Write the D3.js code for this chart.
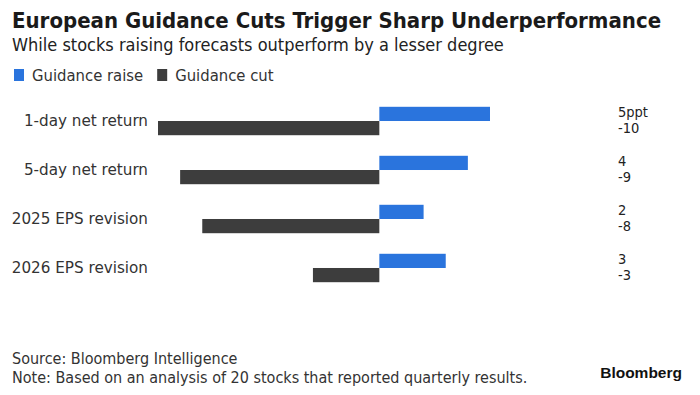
<!DOCTYPE html>
<html>
<head>
<meta charset="utf-8">
<script src="https://cdn.jsdelivr.net/npm/d3@7"></script>
<style>
  body { margin: 0; background: #fff; }
  svg text { fill: #1a1a1a; }
</style>
</head>
<body>
<div id="chart"></div>
<script>
const categories = ['1-day net return', '5-day net return', '2025 EPS revision', '2026 EPS revision'];
const raiseValues = [5, 4, 2, 3];
const cutValues = [-10, -9, -8, -3];
const raiseLabels = ['5ppt', '4', '2', '3'];
const cutLabels = ['-10', '-9', '-8', '-3'];
const seriesNames = ['Guidance raise', 'Guidance cut'];
const colors = ['#2a74dd', '#3d3d3d'];

const width = 700, height = 395;
const condensed = '"DejaVu Sans Condensed", "DejaVu Sans", sans-serif';

const svg = d3.select('#chart').append('svg')
    .attr('width', width)
    .attr('height', height);

// title block
svg.append('text')
    .attr('x', 12).attr('y', 28)
    .style('font-family', condensed)
    .style('font-weight', 'bold')
    .style('font-size', '22px')
    .text('European Guidance Cuts Trigger Sharp Underperformance');

svg.append('text')
    .attr('x', 12).attr('y', 51)
    .style('font-family', condensed)
    .style('font-size', '18px')
    .style('fill', '#222')
    .text('While stocks raising forecasts outperform by a lesser degree');

// legend
const legend = svg.append('g').attr('transform', 'translate(14,68)');
let lx = 0;
seriesNames.forEach((name, i) => {
    const item = legend.append('g').attr('transform', `translate(${lx},0)`);
    item.append('rect').attr('width', 10).attr('height', 12).attr('y', 1).attr('fill', colors[i]);
    const t = item.append('text')
        .attr('x', 18).attr('y', 13)
        .style('font-family', condensed)
        .style('font-size', '16.5px')
        .style('fill', '#333')
        .text(name);
    lx += 18 + t.node().getComputedTextLength() + 14;
});

// scales
const x = d3.scaleLinear().domain([-10, 5]).range([158, 490]);
const y = d3.scaleBand().domain(categories).range([97, 292]).paddingInner(0.42).paddingOuter(0.2);
const barH = y.bandwidth() / 2;

const rows = svg.append('g').selectAll('g')
    .data(categories)
    .join('g')
    .attr('transform', d => `translate(0,${y(d)})`);

rows.append('rect')
    .attr('x', x(0))
    .attr('y', 0)
    .attr('width', (d, i) => x(raiseValues[i]) - x(0))
    .attr('height', barH)
    .attr('fill', colors[0]);

rows.append('rect')
    .attr('x', (d, i) => x(cutValues[i]))
    .attr('y', barH)
    .attr('width', (d, i) => x(0) - x(cutValues[i]))
    .attr('height', barH)
    .attr('fill', colors[1]);

rows.append('text')
    .attr('x', 148)
    .attr('y', barH)
    .attr('dy', '0.3em')
    .attr('text-anchor', 'end')
    .style('font-family', '"DejaVu Sans", sans-serif')
    .style('font-size', '15.2px')
    .style('fill', '#333')
    .text(d => d);

// value labels, stacked tight like the original
rows.append('text')
    .attr('x', 618)
    .attr('y', barH - 4)
    .style('font-family', condensed)
    .style('font-size', '14.5px')
    .style('fill', '#222')
    .text((d, i) => raiseLabels[i]);

rows.append('text')
    .attr('x', 618)
    .attr('y', barH + 12)
    .style('font-family', condensed)
    .style('font-size', '14.5px')
    .style('fill', '#222')
    .text((d, i) => cutLabels[i]);

// footer
svg.append('text')
    .attr('x', 12).attr('y', 364)
    .style('font-family', condensed)
    .style('font-size', '16px')
    .style('fill', '#333')
    .text('Source: Bloomberg Intelligence');

svg.append('text')
    .attr('x', 12).attr('y', 383)
    .style('font-family', condensed)
    .style('font-size', '16px')
    .style('fill', '#333')
    .text('Note: Based on an analysis of 20 stocks that reported quarterly results.');

svg.append('text')
    .attr('x', 682).attr('y', 378)
    .attr('text-anchor', 'end')
    .style('font-family', '"Liberation Sans", Arial, sans-serif')
    .style('font-weight', 'bold')
    .style('font-size', '15.5px')
    .style('fill', '#111')
    .text('Bloomberg');
</script>
</body>
</html>
